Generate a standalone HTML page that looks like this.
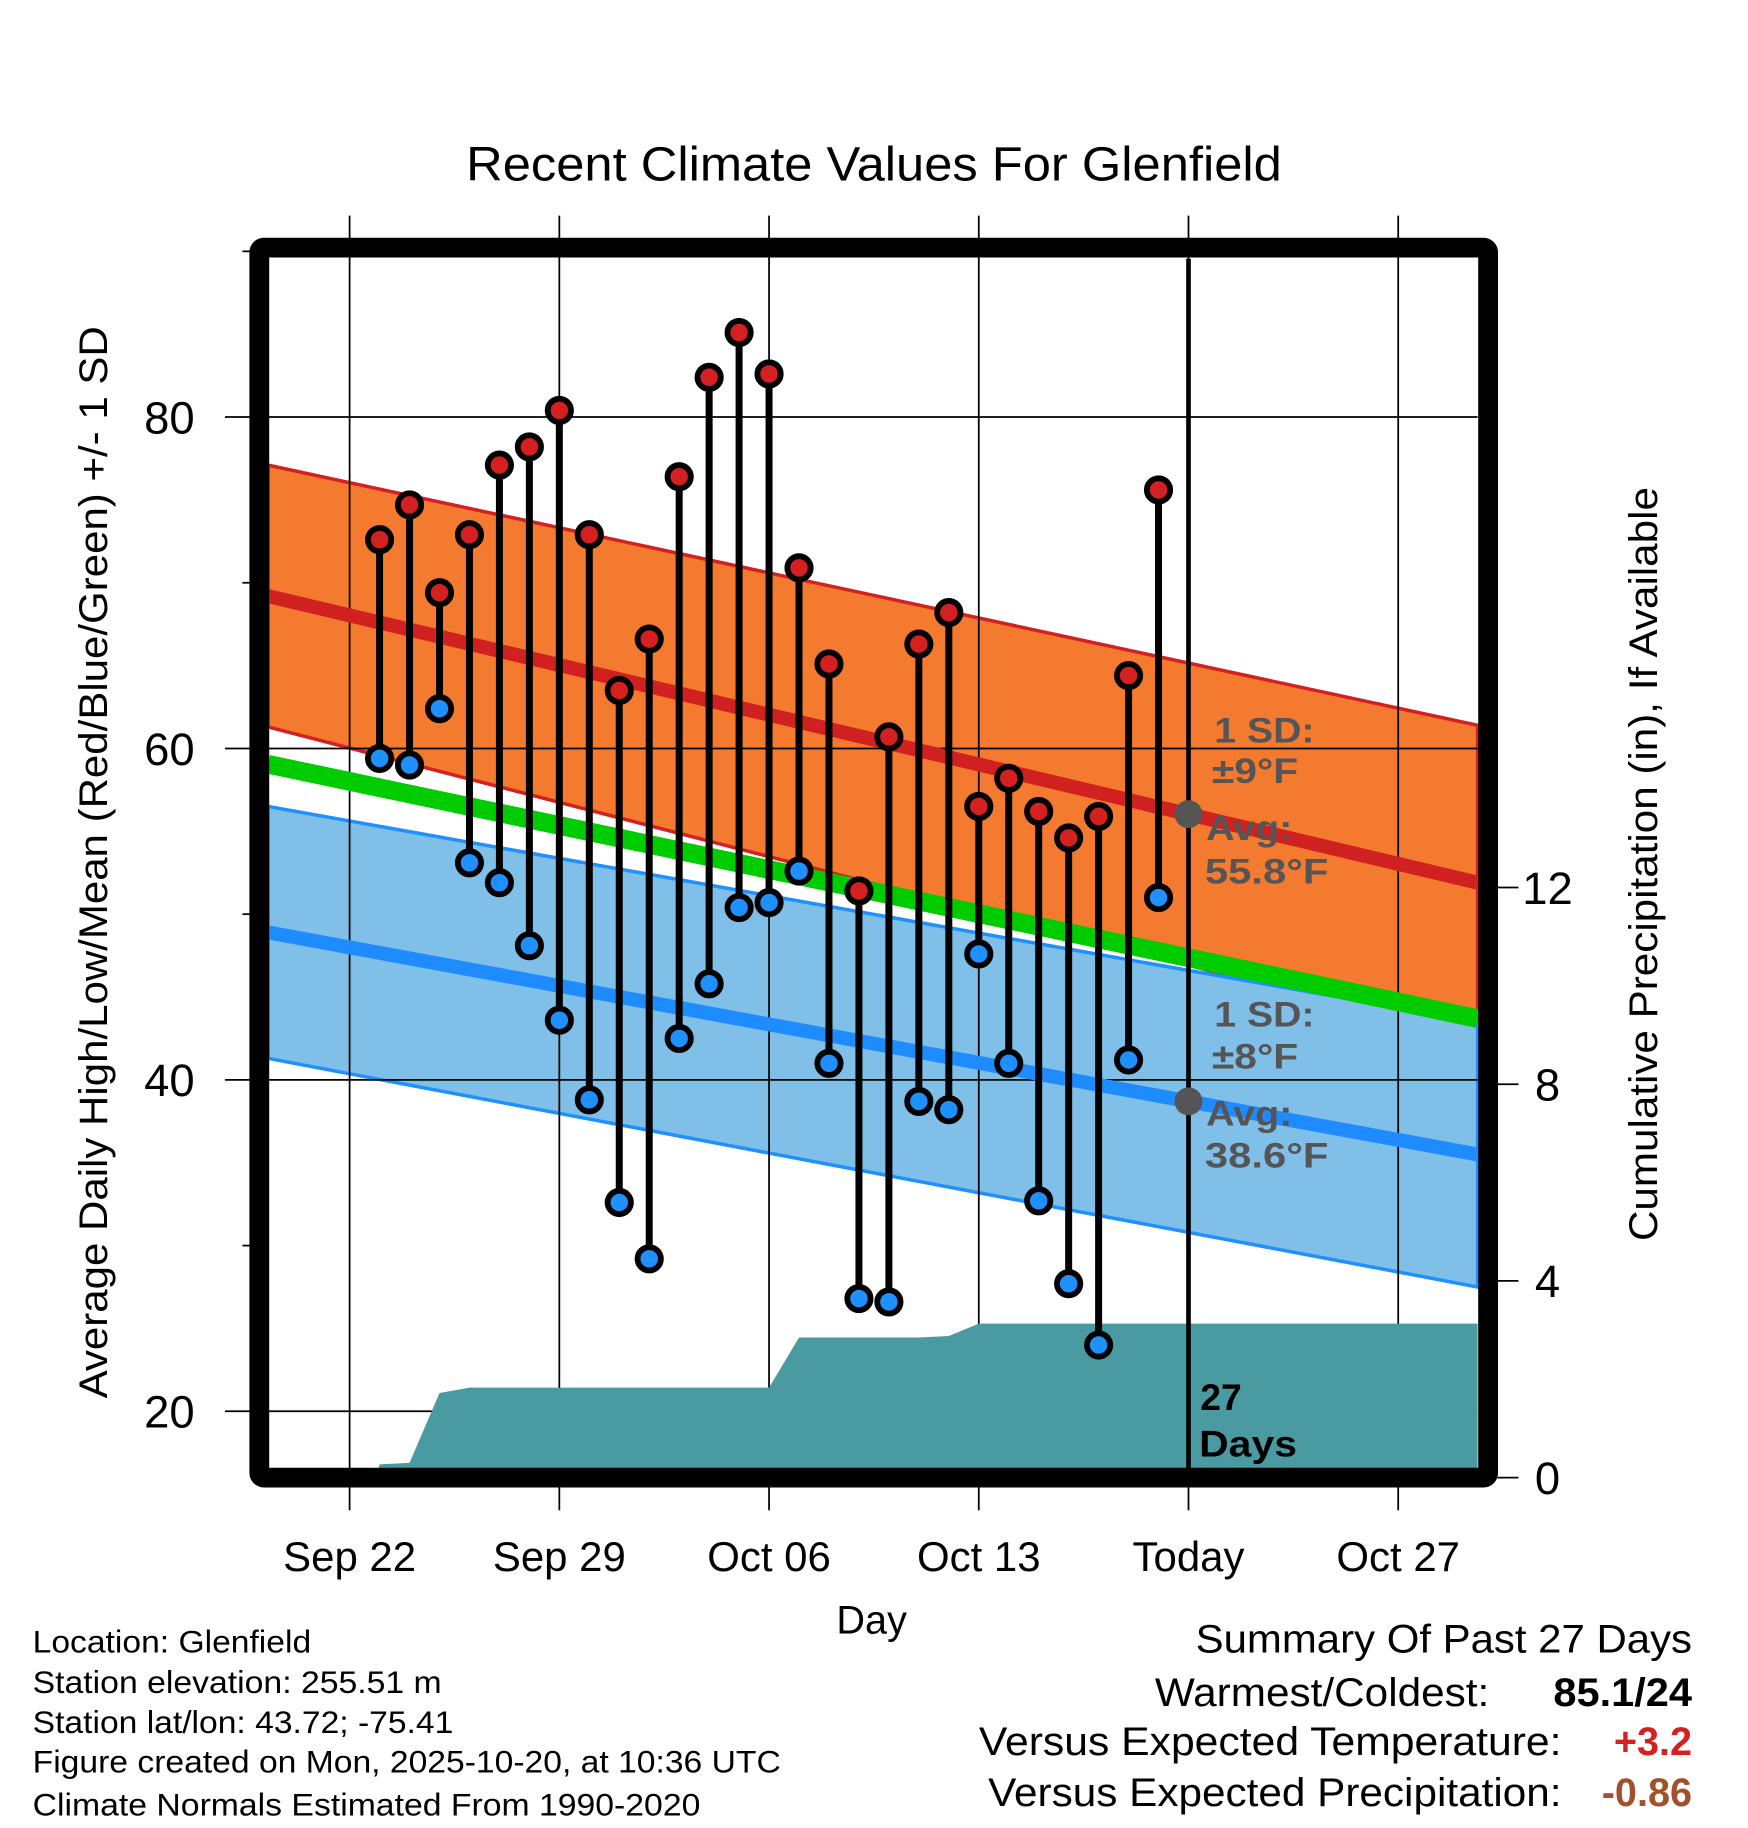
<!DOCTYPE html>
<html><head><meta charset="utf-8"><style>
html,body{margin:0;padding:0;background:#fff;}
svg{display:block;font-family:"Liberation Sans",Arial,sans-serif;}
</style></head><body>
<svg id="chart" width="1748" height="1828" viewBox="0 0 1500 1568.7" xmlns="http://www.w3.org/2000/svg">
<g id="bands"></g><g id="grid"></g><g id="precip"></g><g id="normals"></g><g id="marks"></g><g id="frame"></g><g id="labels"></g>
<text x="400" y="155" font-size="41" textLength="700" lengthAdjust="spacingAndGlyphs">Recent Climate Values For Glenfield</text>
<text transform="translate(92,1200) rotate(-90)" font-size="34" textLength="920" lengthAdjust="spacingAndGlyphs">Average Daily High/Low/Mean (Red/Blue/Green) +/- 1 SD</text>
<text transform="translate(1422,1065) rotate(-90)" font-size="34" textLength="647" lengthAdjust="spacingAndGlyphs">Cumulative Precipitation (in), If Available</text>
<text x="748" y="1402" font-size="34" text-anchor="middle">Day</text>
<g font-size="27">
<text x="28" y="1418" textLength="239" lengthAdjust="spacingAndGlyphs">Location: Glenfield</text>
<text x="28" y="1453" textLength="351" lengthAdjust="spacingAndGlyphs">Station elevation: 255.51 m</text>
<text x="28" y="1487" textLength="361" lengthAdjust="spacingAndGlyphs">Station lat/lon: 43.72; -75.41</text>
<text x="28" y="1521" textLength="642" lengthAdjust="spacingAndGlyphs">Figure created on Mon, 2025-10-20, at 10:36 UTC</text>
<text x="28" y="1558" textLength="573" lengthAdjust="spacingAndGlyphs">Climate Normals Estimated From 1990-2020</text>
</g>
<g font-size="34">
<text x="1026" y="1418" textLength="426" lengthAdjust="spacingAndGlyphs">Summary Of Past 27 Days</text>
<text x="991" y="1464" textLength="287" lengthAdjust="spacingAndGlyphs">Warmest/Coldest:</text>
<text x="1333" y="1464" font-weight="bold" textLength="119" lengthAdjust="spacingAndGlyphs">85.1/24</text>
<text x="840" y="1506" textLength="500" lengthAdjust="spacingAndGlyphs">Versus Expected Temperature:</text>
<text x="1452" y="1506" font-weight="bold" fill="#d42020" text-anchor="end">+3.2</text>
<text x="848" y="1550" textLength="492" lengthAdjust="spacingAndGlyphs">Versus Expected Precipitation:</text>
<text x="1452" y="1550" font-weight="bold" fill="#a0522d" text-anchor="end">-0.86</text>
</g>
</svg>
<script>
const days=[1,2,3,4,5,6,7,8,9,10,11,12,13,14,15,16,17,18,19,20,21,22,23,24,25,26,27];
const highs=[72.6,74.7,69.4,72.9,77.1,78.2,80.4,72.9,63.5,66.6,76.4,82.4,85.1,82.6,70.9,65.1,51.4,60.7,66.3,68.2,56.5,58.2,56.2,54.6,55.9,64.4,75.6];
const lows=[59.4,59.0,62.4,53.1,51.9,48.1,43.6,38.8,32.6,29.2,42.5,45.8,50.4,50.7,52.6,41.0,26.8,26.6,38.7,38.2,47.6,41.0,32.7,27.7,24.0,41.2,51.0];
const precip=[0.27,0.30,1.72,1.83,1.83,1.83,1.83,1.83,1.83,1.83,1.83,1.83,1.83,1.83,2.85,2.85,2.85,2.85,2.85,2.88,3.13,3.13,3.13,3.13,3.13,3.13,3.13];
const normHigh=[69.2,51.9];
const normHighSD=[7.9,9.5];
const normLow=[48.9,35.5];
const normLowSD=[7.6,8.0];
const tempTicks=[20,40,60,80];
const minorTicks=[30,50,70,90];
const precipTicks=[0,4,8,12];
const xTickDays=[0,7,14,21,28,35];
const xTickLabels=["Sep 22","Sep 29","Oct 06","Oct 13","Today","Oct 27"];
const todayDay=28;

const L=230,R=1268,T=222,B=1262;
const dayL=(L-300)/25.71, dayR=(R-300)/25.71;
const X=d=>300+25.71*d;
const Y=t=>357.9+(80-t)*14.22;
const P=p=>1268-p*42.2;
const NS="http://www.w3.org/2000/svg";
function mk(parent,tag,attrs){const e=document.createElementNS(NS,tag);for(const k in attrs)e.setAttribute(k,attrs[k]);document.getElementById(parent).appendChild(e);return e;}

const hu=[normHigh[0]+normHighSD[0],normHigh[1]+normHighSD[1]], hl=[normHigh[0]-normHighSD[0],normHigh[1]-normHighSD[1]];
const lu=[normLow[0]+normLowSD[0],normLow[1]+normLowSD[1]], ll=[normLow[0]-normLowSD[0],normLow[1]-normLowSD[1]];
let e=mk('bands','polygon',{points:`${L},${Y(hu[0])} ${R},${Y(hu[1])} ${R},${Y(hl[1])} ${L},${Y(hl[0])}`,fill:'#f47a30',stroke:'#d42020','stroke-width':3});


e=mk('bands','polygon',{points:`${L},${Y(lu[0])} ${R},${Y(lu[1])} ${R},${Y(ll[1])} ${L},${Y(ll[0])}`,fill:'#80c0e8',stroke:'#1e90ff','stroke-width':3});



tempTicks.forEach(t=>{
 e=mk('grid','line',{x1:193,x2:R,y1:Y(t),y2:Y(t),stroke:'#000','stroke-width':1.5});
 
 
 e=mk('labels','text',{x:167,y:Y(t)+14,'font-size':39,'text-anchor':'end'});e.textContent=t;
 
 
});
minorTicks.forEach(t=>{e=mk('grid','line',{x1:208,x2:216,y1:Y(t),y2:Y(t),stroke:'#000','stroke-width':1.5});
 
 });
xTickDays.forEach((d,i)=>{
 e=mk('grid','line',{x1:X(d),x2:X(d),y1:185,y2:1296,stroke:'#000','stroke-width':1.5});
 
 
 e=mk('labels','text',{x:X(d),y:1348,'font-size':36,'text-anchor':'middle'});e.textContent=xTickLabels[i];
 
 
});
precipTicks.forEach(p=>{
 e=mk('grid','line',{x1:1285,x2:1303,y1:P(p),y2:P(p),stroke:'#000','stroke-width':1.5});
 
 
 e=mk('labels','text',{x:1328,y:P(p)+14,'font-size':39,'text-anchor':'middle'});e.textContent=p;
 
 
});

let pts=`${X(days[0])-3},${P(0)} `;
days.forEach((d,i)=>{pts+=`${X(d)},${P(precip[i])} `;});
pts+=`${R},${P(precip[precip.length-1])} ${R},${P(0)}`;
e=mk('precip','polygon',{points:pts,fill:'#4a9aa2'});



const nm=[(normHigh[0]+normLow[0])/2,(normHigh[1]+normLow[1])/2];
e=mk('normals','line',{x1:L,x2:R,y1:Y(nm[0]),y2:Y(nm[1]),stroke:'#00cc00','stroke-width':16});


e=mk('normals','line',{x1:L,x2:R,y1:Y(normHigh[0]),y2:Y(normHigh[1]),stroke:'#d02020','stroke-width':12});


e=mk('normals','line',{x1:L,x2:R,y1:Y(normLow[0]),y2:Y(normLow[1]),stroke:'#1e8cff','stroke-width':12});


e=mk('normals','line',{x1:X(todayDay),x2:X(todayDay),y1:T,y2:B,stroke:'#000','stroke-width':4});



const fr=(todayDay-dayL)/(dayR-dayL);
const hT=normHigh[0]+(normHigh[1]-normHigh[0])*fr, lT=normLow[0]+(normLow[1]-normLow[0])*fr;
e=mk('normals','circle',{cx:X(todayDay),cy:Y(hT),r:12,fill:'#555'});


e=mk('normals','circle',{cx:X(todayDay),cy:Y(lT),r:12,fill:'#555'});



days.forEach((d,i)=>{
 e=mk('marks','line',{x1:X(d),x2:X(d),y1:Y(highs[i]),y2:Y(lows[i]),stroke:'#000','stroke-width':6});
 
 
});
days.forEach((d,i)=>{
 e=mk('marks','circle',{cx:X(d),cy:Y(highs[i]),r:10,fill:'#d42020',stroke:'#000','stroke-width':5});
 
 
 e=mk('marks','circle',{cx:X(d),cy:Y(lows[i]),r:10,fill:'#1e90ff',stroke:'#000','stroke-width':5});
 
 
});

e=mk('frame','rect',{x:222.5,y:212.5,width:1054.5,height:1055.5,rx:4,fill:'none',stroke:'#000','stroke-width':17});



function txt(x,y,s,size,fill,bold,len){const a={x:x,y:y,'font-size':size,fill:fill,'font-weight':bold?'bold':'normal'};if(len){a.textLength=len;a.lengthAdjust='spacingAndGlyphs';}const t=mk('labels','text',a);t.textContent=s;return t;}
const ann=[[1042,637,'1 SD:',86],[1040,672,'±9°F',74],[1035,721,'Avg:',74],[1034,758,'55.8°F',106],[1042,881,'1 SD:',86],[1040,917,'±8°F',74],[1035,966,'Avg:',74],[1034,1002,'38.6°F',106]];
ann.forEach(a=>{e=txt(a[0],a[1],a[2],30,'#555',true,a[3]);
 
 });
e=txt(1030,1210,'27',32,'#000',true,0);


e=txt(1029,1250,'Days',32,'#000',true,84);


</script>
</body></html>
